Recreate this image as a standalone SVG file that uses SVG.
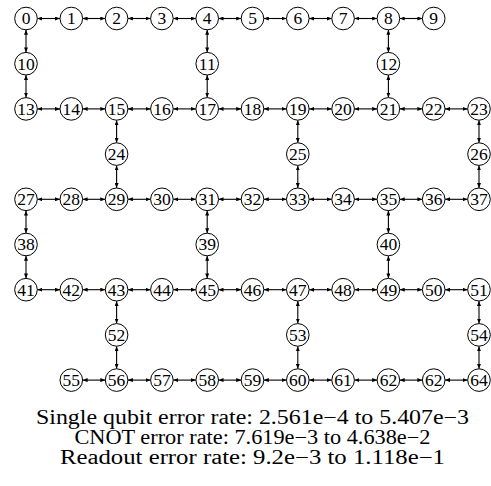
<svg xmlns="http://www.w3.org/2000/svg" width="491" height="486" viewBox="0 0 491 486">
<style>
.nd circle{fill:#fff;stroke:#000;stroke-width:1}
.nd text{font-family:"Liberation Serif","Times New Roman",serif;font-size:17.5px;text-anchor:middle;fill:#000}
.ed line{stroke:#000;stroke-width:1.1;marker-start:url(#ah);marker-end:url(#ah)}
.cap{font-family:"Liberation Serif","Times New Roman",serif;font-size:20px;text-anchor:middle;fill:#000}
</style>
<defs>
<marker id="ah" viewBox="0 0 10 8" refX="10" refY="4" markerWidth="5" markerHeight="4" markerUnits="userSpaceOnUse" orient="auto-start-reverse">
<path d="M0,0 L10,4 L0,8 z" fill="#000"/>
</marker>
</defs>
<rect width="491" height="486" fill="#fff"/>
<g id="connectors" class="ed">
<line x1="37.3" y1="18.5" x2="60.0" y2="18.5"/>
<line x1="82.6" y1="18.5" x2="105.3" y2="18.5"/>
<line x1="127.9" y1="18.5" x2="150.6" y2="18.5"/>
<line x1="173.2" y1="18.5" x2="195.9" y2="18.5"/>
<line x1="218.5" y1="18.5" x2="241.2" y2="18.5"/>
<line x1="263.8" y1="18.5" x2="286.5" y2="18.5"/>
<line x1="309.1" y1="18.5" x2="331.8" y2="18.5"/>
<line x1="354.4" y1="18.5" x2="377.1" y2="18.5"/>
<line x1="399.7" y1="18.5" x2="422.4" y2="18.5"/>
<line x1="37.3" y1="108.9" x2="60.0" y2="108.9"/>
<line x1="82.6" y1="108.9" x2="105.3" y2="108.9"/>
<line x1="127.9" y1="108.9" x2="150.6" y2="108.9"/>
<line x1="173.2" y1="108.9" x2="195.9" y2="108.9"/>
<line x1="218.5" y1="108.9" x2="241.2" y2="108.9"/>
<line x1="263.8" y1="108.9" x2="286.5" y2="108.9"/>
<line x1="309.1" y1="108.9" x2="331.8" y2="108.9"/>
<line x1="354.4" y1="108.9" x2="377.1" y2="108.9"/>
<line x1="399.7" y1="108.9" x2="422.4" y2="108.9"/>
<line x1="445.0" y1="108.9" x2="467.7" y2="108.9"/>
<line x1="37.3" y1="199.3" x2="60.0" y2="199.3"/>
<line x1="82.6" y1="199.3" x2="105.3" y2="199.3"/>
<line x1="127.9" y1="199.3" x2="150.6" y2="199.3"/>
<line x1="173.2" y1="199.3" x2="195.9" y2="199.3"/>
<line x1="218.5" y1="199.3" x2="241.2" y2="199.3"/>
<line x1="263.8" y1="199.3" x2="286.5" y2="199.3"/>
<line x1="309.1" y1="199.3" x2="331.8" y2="199.3"/>
<line x1="354.4" y1="199.3" x2="377.1" y2="199.3"/>
<line x1="399.7" y1="199.3" x2="422.4" y2="199.3"/>
<line x1="445.0" y1="199.3" x2="467.7" y2="199.3"/>
<line x1="37.3" y1="289.7" x2="60.0" y2="289.7"/>
<line x1="82.6" y1="289.7" x2="105.3" y2="289.7"/>
<line x1="127.9" y1="289.7" x2="150.6" y2="289.7"/>
<line x1="173.2" y1="289.7" x2="195.9" y2="289.7"/>
<line x1="218.5" y1="289.7" x2="241.2" y2="289.7"/>
<line x1="263.8" y1="289.7" x2="286.5" y2="289.7"/>
<line x1="309.1" y1="289.7" x2="331.8" y2="289.7"/>
<line x1="354.4" y1="289.7" x2="377.1" y2="289.7"/>
<line x1="399.7" y1="289.7" x2="422.4" y2="289.7"/>
<line x1="445.0" y1="289.7" x2="467.7" y2="289.7"/>
<line x1="82.6" y1="380.1" x2="105.3" y2="380.1"/>
<line x1="127.9" y1="380.1" x2="150.6" y2="380.1"/>
<line x1="173.2" y1="380.1" x2="195.9" y2="380.1"/>
<line x1="218.5" y1="380.1" x2="241.2" y2="380.1"/>
<line x1="263.8" y1="380.1" x2="286.5" y2="380.1"/>
<line x1="309.1" y1="380.1" x2="331.8" y2="380.1"/>
<line x1="354.4" y1="380.1" x2="377.1" y2="380.1"/>
<line x1="399.7" y1="380.1" x2="422.4" y2="380.1"/>
<line x1="445.0" y1="380.1" x2="467.7" y2="380.1"/>
<line x1="26.0" y1="29.8" x2="26.0" y2="52.4"/>
<line x1="26.0" y1="75.0" x2="26.0" y2="97.6"/>
<line x1="207.2" y1="29.8" x2="207.2" y2="52.4"/>
<line x1="207.2" y1="75.0" x2="207.2" y2="97.6"/>
<line x1="388.4" y1="29.8" x2="388.4" y2="52.4"/>
<line x1="388.4" y1="75.0" x2="388.4" y2="97.6"/>
<line x1="116.6" y1="120.2" x2="116.6" y2="142.8"/>
<line x1="116.6" y1="165.4" x2="116.6" y2="188.0"/>
<line x1="297.8" y1="120.2" x2="297.8" y2="142.8"/>
<line x1="297.8" y1="165.4" x2="297.8" y2="188.0"/>
<line x1="479.0" y1="120.2" x2="479.0" y2="142.8"/>
<line x1="479.0" y1="165.4" x2="479.0" y2="188.0"/>
<line x1="26.0" y1="210.6" x2="26.0" y2="233.2"/>
<line x1="26.0" y1="255.8" x2="26.0" y2="278.4"/>
<line x1="207.2" y1="210.6" x2="207.2" y2="233.2"/>
<line x1="207.2" y1="255.8" x2="207.2" y2="278.4"/>
<line x1="388.4" y1="210.6" x2="388.4" y2="233.2"/>
<line x1="388.4" y1="255.8" x2="388.4" y2="278.4"/>
<line x1="116.6" y1="301.0" x2="116.6" y2="323.6"/>
<line x1="116.6" y1="346.2" x2="116.6" y2="368.8"/>
<line x1="297.8" y1="301.0" x2="297.8" y2="323.6"/>
<line x1="297.8" y1="346.2" x2="297.8" y2="368.8"/>
<line x1="479.0" y1="301.0" x2="479.0" y2="323.6"/>
<line x1="479.0" y1="346.2" x2="479.0" y2="368.8"/>
</g>
<g class="nd">
<g id="n0" transform="translate(26.0,18.5)"><circle r="11.3"/><text y="5.9">0</text></g>
<g id="n1" transform="translate(71.3,18.5)"><circle r="11.3"/><text y="5.9">1</text></g>
<g id="n2" transform="translate(116.6,18.5)"><circle r="11.3"/><text y="5.9">2</text></g>
<g id="n3" transform="translate(161.9,18.5)"><circle r="11.3"/><text y="5.9">3</text></g>
<g id="n4" transform="translate(207.2,18.5)"><circle r="11.3"/><text y="5.9">4</text></g>
<g id="n5" transform="translate(252.5,18.5)"><circle r="11.3"/><text y="5.9">5</text></g>
<g id="n6" transform="translate(297.8,18.5)"><circle r="11.3"/><text y="5.9">6</text></g>
<g id="n7" transform="translate(343.1,18.5)"><circle r="11.3"/><text y="5.9">7</text></g>
<g id="n8" transform="translate(388.4,18.5)"><circle r="11.3"/><text y="5.9">8</text></g>
<g id="n9" transform="translate(433.7,18.5)"><circle r="11.3"/><text y="5.9">9</text></g>
<g id="n10" transform="translate(26.0,63.7)"><circle r="11.3"/><text y="5.9">10</text></g>
<g id="n11" transform="translate(207.2,63.7)"><circle r="11.3"/><text y="5.9">11</text></g>
<g id="n12" transform="translate(388.4,63.7)"><circle r="11.3"/><text y="5.9">12</text></g>
<g id="n13" transform="translate(26.0,108.9)"><circle r="11.3"/><text y="5.9">13</text></g>
<g id="n14" transform="translate(71.3,108.9)"><circle r="11.3"/><text y="5.9">14</text></g>
<g id="n15" transform="translate(116.6,108.9)"><circle r="11.3"/><text y="5.9">15</text></g>
<g id="n16" transform="translate(161.9,108.9)"><circle r="11.3"/><text y="5.9">16</text></g>
<g id="n17" transform="translate(207.2,108.9)"><circle r="11.3"/><text y="5.9">17</text></g>
<g id="n18" transform="translate(252.5,108.9)"><circle r="11.3"/><text y="5.9">18</text></g>
<g id="n19" transform="translate(297.8,108.9)"><circle r="11.3"/><text y="5.9">19</text></g>
<g id="n20" transform="translate(343.1,108.9)"><circle r="11.3"/><text y="5.9">20</text></g>
<g id="n21" transform="translate(388.4,108.9)"><circle r="11.3"/><text y="5.9">21</text></g>
<g id="n22" transform="translate(433.7,108.9)"><circle r="11.3"/><text y="5.9">22</text></g>
<g id="n23" transform="translate(479.0,108.9)"><circle r="11.3"/><text y="5.9">23</text></g>
<g id="n24" transform="translate(116.6,154.1)"><circle r="11.3"/><text y="5.9">24</text></g>
<g id="n25" transform="translate(297.8,154.1)"><circle r="11.3"/><text y="5.9">25</text></g>
<g id="n26" transform="translate(479.0,154.1)"><circle r="11.3"/><text y="5.9">26</text></g>
<g id="n27" transform="translate(26.0,199.3)"><circle r="11.3"/><text y="5.9">27</text></g>
<g id="n28" transform="translate(71.3,199.3)"><circle r="11.3"/><text y="5.9">28</text></g>
<g id="n29" transform="translate(116.6,199.3)"><circle r="11.3"/><text y="5.9">29</text></g>
<g id="n30" transform="translate(161.9,199.3)"><circle r="11.3"/><text y="5.9">30</text></g>
<g id="n31" transform="translate(207.2,199.3)"><circle r="11.3"/><text y="5.9">31</text></g>
<g id="n32" transform="translate(252.5,199.3)"><circle r="11.3"/><text y="5.9">32</text></g>
<g id="n33" transform="translate(297.8,199.3)"><circle r="11.3"/><text y="5.9">33</text></g>
<g id="n34" transform="translate(343.1,199.3)"><circle r="11.3"/><text y="5.9">34</text></g>
<g id="n35" transform="translate(388.4,199.3)"><circle r="11.3"/><text y="5.9">35</text></g>
<g id="n36" transform="translate(433.7,199.3)"><circle r="11.3"/><text y="5.9">36</text></g>
<g id="n37" transform="translate(479.0,199.3)"><circle r="11.3"/><text y="5.9">37</text></g>
<g id="n38" transform="translate(26.0,244.5)"><circle r="11.3"/><text y="5.9">38</text></g>
<g id="n39" transform="translate(207.2,244.5)"><circle r="11.3"/><text y="5.9">39</text></g>
<g id="n40" transform="translate(388.4,244.5)"><circle r="11.3"/><text y="5.9">40</text></g>
<g id="n41" transform="translate(26.0,289.7)"><circle r="11.3"/><text y="5.9">41</text></g>
<g id="n42" transform="translate(71.3,289.7)"><circle r="11.3"/><text y="5.9">42</text></g>
<g id="n43" transform="translate(116.6,289.7)"><circle r="11.3"/><text y="5.9">43</text></g>
<g id="n44" transform="translate(161.9,289.7)"><circle r="11.3"/><text y="5.9">44</text></g>
<g id="n45" transform="translate(207.2,289.7)"><circle r="11.3"/><text y="5.9">45</text></g>
<g id="n46" transform="translate(252.5,289.7)"><circle r="11.3"/><text y="5.9">46</text></g>
<g id="n47" transform="translate(297.8,289.7)"><circle r="11.3"/><text y="5.9">47</text></g>
<g id="n48" transform="translate(343.1,289.7)"><circle r="11.3"/><text y="5.9">48</text></g>
<g id="n49" transform="translate(388.4,289.7)"><circle r="11.3"/><text y="5.9">49</text></g>
<g id="n50" transform="translate(433.7,289.7)"><circle r="11.3"/><text y="5.9">50</text></g>
<g id="n51" transform="translate(479.0,289.7)"><circle r="11.3"/><text y="5.9">51</text></g>
<g id="n52" transform="translate(116.6,334.9)"><circle r="11.3"/><text y="5.9">52</text></g>
<g id="n53" transform="translate(297.8,334.9)"><circle r="11.3"/><text y="5.9">53</text></g>
<g id="n54" transform="translate(479.0,334.9)"><circle r="11.3"/><text y="5.9">54</text></g>
<g id="n55" transform="translate(71.3,380.1)"><circle r="11.3"/><text y="5.9">55</text></g>
<g id="n56" transform="translate(116.6,380.1)"><circle r="11.3"/><text y="5.9">56</text></g>
<g id="n57" transform="translate(161.9,380.1)"><circle r="11.3"/><text y="5.9">57</text></g>
<g id="n58" transform="translate(207.2,380.1)"><circle r="11.3"/><text y="5.9">58</text></g>
<g id="n59" transform="translate(252.5,380.1)"><circle r="11.3"/><text y="5.9">59</text></g>
<g id="n60" transform="translate(297.8,380.1)"><circle r="11.3"/><text y="5.9">60</text></g>
<g id="n61" transform="translate(343.1,380.1)"><circle r="11.3"/><text y="5.9">61</text></g>
<g id="n62" transform="translate(388.4,380.1)"><circle r="11.3"/><text y="5.9">62</text></g>
<g id="n63" transform="translate(433.7,380.1)"><circle r="11.3"/><text y="5.9">62</text></g>
<g id="n64" transform="translate(479.0,380.1)"><circle r="11.3"/><text y="5.9">64</text></g>
</g>
<g id="caption">
<text class="cap" x="252.5" y="423.5" textLength="433" lengthAdjust="spacingAndGlyphs">Single qubit error rate: 2.561e−4 to 5.407e−3</text>
<text class="cap" x="252.5" y="443.8" textLength="356" lengthAdjust="spacingAndGlyphs">CNOT error rate: 7.619e−3 to 4.638e−2</text>
<text class="cap" x="252.5" y="464.1" textLength="385" lengthAdjust="spacingAndGlyphs">Readout error rate: 9.2e−3 to 1.118e−1</text>
</g>
</svg>
